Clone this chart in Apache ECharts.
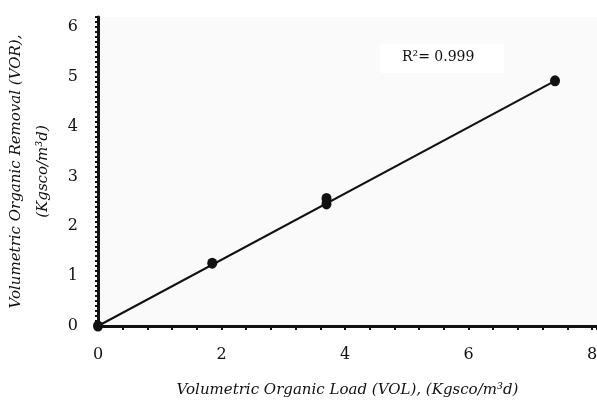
<!DOCTYPE html>
<html>
<head>
<meta charset="utf-8">
<script src="https://cdn.jsdelivr.net/npm/echarts@6/dist/echarts.min.js"></script>
<style>
    html, body { margin: 0; padding: 0; background: #fff; }
    #chart { width: 597px; height: 403px; }
</style>
</head>
<body>
<div id="chart"></div>
<script>
// measured points (VOL, VOR)
const vol = [0, 1.85, 3.7, 3.7, 7.4]
const vor = [0, 1.26, 2.45, 2.56, 4.92]
// fitted line end points
const fitX = [0, 7.4]
const fitY = [0, 4.92]
const xTicks = [0, 2, 4, 6, 8]
const yTicks = [0, 1, 2, 3, 4, 5, 6]
const r2Text = 'R²= 0.999'

let chartDom = document.getElementById('chart')
let myChart = echarts.init(chartDom)
let option

const labelFont = {
    color: '#111',
    fontFamily: 'DejaVu Serif',
    fontSize: 16
}
const nameFont = {
    color: '#111',
    fontFamily: 'DejaVu Serif',
    fontStyle: 'italic',
    fontSize: 15
}

option = {
    animation: false,
    grid: {
        left: 98,
        right: 0,
        top: 17,
        bottom: 77,
        outerBoundsMode: 'none',
        containLabel: false,
        show: true,
        backgroundColor: '#fafafa',
        borderWidth: 0
    },
    graphic: [
        {
            type: 'rect',
            left: 380,
            top: 44,
            shape: { width: 124, height: 29 },
            style: { fill: '#fff' }
        },
        {
            type: 'text',
            left: 402,
            top: 50,
            style: {
                text: r2Text,
                fill: '#111',
                font: '14px "DejaVu Serif"'
            }
        }
    ],
    xAxis: {
        type: 'value',
        min: xTicks[0],
        max: 8.08,
        interval: 2,
        name: 'Volumetric Organic Load (VOL), (Kgsco/m³d)',
        nameLocation: 'middle',
        nameGap: 57,
        nameTextStyle: nameFont,
        axisLine: { lineStyle: { color: '#111', width: 3 } },
        axisTick: { show: true, length: 4, lineStyle: { color: '#111', width: 2 } },
        minorTick: { show: true, splitNumber: 5, length: 4, lineStyle: { color: '#111', width: 2 } },
        axisLabel: Object.assign({
            margin: 21,
            showMaxLabel: false,
            formatter: v => (xTicks.indexOf(v) >= 0 ? String(v) : '')
        }, labelFont),
        splitLine: { show: false }
    },
    yAxis: {
        type: 'value',
        min: yTicks[0],
        max: 6.2,
        interval: 1,
        name: 'Volumetric Organic Removal (VOR),\n(Kgsco/m³d)',
        nameLocation: 'middle',
        nameGap: 38,
        nameTextStyle: Object.assign({ lineHeight: 27 }, nameFont),
        axisLine: { lineStyle: { color: '#111', width: 3 } },
        axisTick: { show: true, length: 3, lineStyle: { color: '#111', width: 2 } },
        minorTick: { show: true, splitNumber: 10, length: 3, lineStyle: { color: '#111', width: 2 } },
        axisLabel: Object.assign({
            margin: 20,
            showMaxLabel: false,
            formatter: v => (yTicks.indexOf(v) >= 0 ? String(v) : '')
        }, labelFont),
        splitLine: { show: false }
    },
    series: [
        {
            name: 'fit',
            type: 'line',
            data: fitX.map((x, i) => [x, fitY[i]]),
            showSymbol: false,
            lineStyle: { color: '#111', width: 2 },
            z: 2
        },
        {
            name: 'VOR',
            type: 'scatter',
            data: vol.map((x, i) => [x, vor[i]]),
            symbol: 'circle',
            symbolSize: [10, 11],
            itemStyle: { color: '#111', opacity: 1 },
            z: 3
        }
    ]
}

option && myChart.setOption(option)
</script>
</body>
</html>
